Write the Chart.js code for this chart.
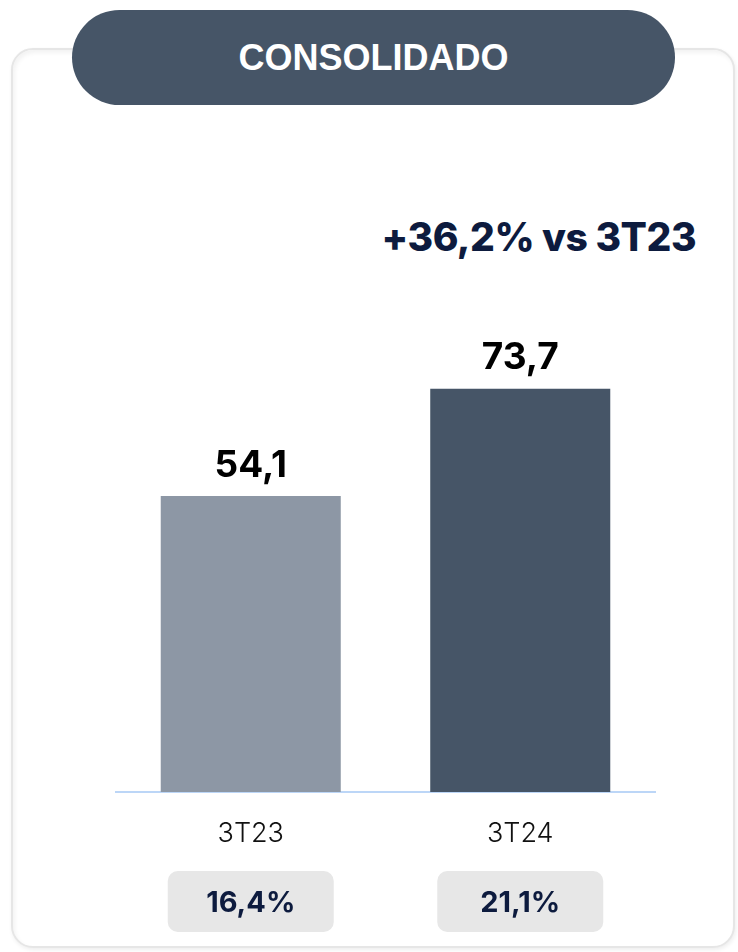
<!DOCTYPE html>
<html>
<head>
    <title>Consolidado</title>
    <script src="https://cdn.jsdelivr.net/npm/chart.js"></script>
    <style>
        body { margin: 0; background: #ffffff; width: 738px; height: 952px; position: relative; overflow: hidden; font-family: Inter, sans-serif; }
        .card { position: absolute; left: 11px; top: 48px; width: 720px; height: 896px; border: 2px solid #e6e6e6; border-radius: 22px; box-shadow: inset 2px 3px 4px rgba(0,0,0,0.05), 1px 2px 4px rgba(0,0,0,0.07); background: #fff; }
        .pill { position: absolute; left: 72px; top: 10px; width: 603px; height: 95px; border-radius: 48px; background: #465567; color: #fff; font: bold 36px "Liberation Sans", Arial, sans-serif; display: flex; align-items: center; justify-content: center; }
        .delta { position: absolute; right: 42px; top: 213px; font: 800 39px Inter, sans-serif; color: #0d1b3e; letter-spacing: -0.5px; }
        #chart { position: absolute; left: 0; top: 0; }
    </style>
</head>
<body>
    <div class="card"></div>
    <div class="pill">CONSOLIDADO</div>
    <div class="delta">+36,2% vs 3T23</div>
    <canvas id="chart" width="738" height="952"></canvas>

<script>
// chart data
const categories = ['3T23', '3T24'];
const values = [54.1, 73.7];
const margins = ['16,4%', '21,1%'];
const barColors = ['#8d97a5', '#465567'];

function fmt(v) {
    return v.toFixed(1).replace('.', ',');
}

// value labels over each bar
const valueLabels = {
    id: 'valueLabels',
    afterDatasetsDraw(chart) {
        const ctx = chart.ctx;
        const meta = chart.getDatasetMeta(0);
        ctx.save();
        ctx.font = 'bold 37px Inter, sans-serif';
        ctx.fillStyle = '#000000';
        ctx.textAlign = 'center';
        ctx.textBaseline = 'bottom';
        meta.data.forEach((bar, i) => {
            ctx.fillText(fmt(values[i]), bar.x, bar.y - 12);
        });
        ctx.restore();
    }
};

// grey boxes with the margin under each category
const marginBoxes = {
    id: 'marginBoxes',
    afterDraw(chart) {
        const ctx = chart.ctx;
        const xs = chart.scales.x;
        ctx.save();
        margins.forEach((m, i) => {
            const x = xs.getPixelForValue(i);
            ctx.fillStyle = '#e7e7e7';
            ctx.beginPath();
            ctx.roundRect(x - 83, 871, 166, 61, 10);
            ctx.fill();
            ctx.fillStyle = '#0d1b3e';
            ctx.font = 'bold 29px Inter, sans-serif';
            ctx.textAlign = 'center';
            ctx.textBaseline = 'middle';
            ctx.fillText(m, x, 903);
        });
        ctx.restore();
    }
};

new Chart(document.getElementById('chart').getContext('2d'), {
    type: 'bar',
    data: {
        labels: categories,
        datasets: [{
            data: values,
            backgroundColor: barColors,
            borderWidth: 0,
            categoryPercentage: 1,
            barPercentage: 0.668
        }]
    },
    options: {
        responsive: false,
        animation: false,
        layout: { padding: { left: 116, right: 83, top: 245, bottom: 0 } },
        plugins: { legend: { display: false }, tooltip: { enabled: false } },
        scales: {
            y: { display: false, min: 0, max: 100 },
            x: {
                grid: { display: false, drawTicks: false },
                border: { color: '#bcd6f7', width: 2 },
                ticks: { color: '#111111', font: { family: 'Inter', size: 27, weight: 300 }, padding: 26 },
                afterFit(scale) { scale.height = 160; }
            }
        }
    },
    plugins: [valueLabels, marginBoxes]
});
</script>
</body>
</html>
